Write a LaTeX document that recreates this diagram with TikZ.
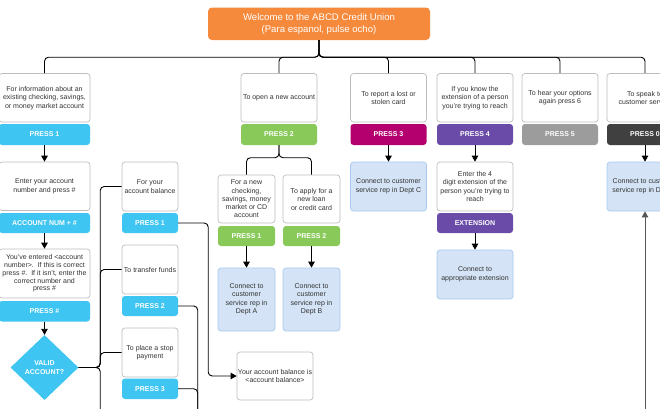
\documentclass[tikz,border=0pt]{standalone}
\usepackage{fontspec}
\setmainfont{Liberation Sans}
\usetikzlibrary{arrows.meta,shapes.geometric}
\definecolor{orng}{HTML}{F68A3C}
\definecolor{pblue}{HTML}{3EC5F1}
\definecolor{pgreen}{HTML}{89C95A}
\definecolor{pmag}{HTML}{B3006E}
\definecolor{ppurp}{HTML}{6A4CA8}
\definecolor{pgrey}{HTML}{9C9C9C}
\definecolor{pdark}{HTML}{404040}
\definecolor{lbfill}{HTML}{D4E4F6}
\definecolor{lbdraw}{HTML}{A8C8F0}
\definecolor{boxgray}{HTML}{BDBDBD}
\definecolor{txt}{HTML}{333333}
\definecolor{upline}{HTML}{555555}
\begin{document}
\begin{tikzpicture}[x=1pt,y=-1pt,
  box/.style={draw=boxgray, fill=white, rounded corners=3pt, line width=0.7pt, inner sep=0pt, align=center, text=txt, font=\fontsize{7}{8.5}\selectfont},
  bluebox/.style={box, draw=lbdraw, fill=lbfill},
  bar/.style={rounded corners=3pt, inner sep=0pt, text=white, font=\fontsize{7}{8}\selectfont\bfseries},
  conn/.style={line width=0.9pt, rounded corners=4pt},
  arr/.style={conn, -{Triangle[length=6pt,width=6.5pt]}}]
\useasboundingbox (0,0) rectangle (660,408);
\clip (0,0) rectangle (660,408);

% title
\node[rounded corners=4pt, fill=orng, text=white, align=center, inner sep=0pt,
  minimum width=222, minimum height=32.5, font=\fontsize{9.6}{12}\selectfont] (title) at (319,23.75)
  {Welcome to the ABCD Credit Union\\(Para espanol, pulse ocho)};

% row 1
\node[box, minimum width=91, minimum height=48.5] (b1) at (44.5,97.75) {For information about an\\existing checking, savings,\\or money market account};
\node[bar, fill=pblue, minimum width=91, minimum height=21] (p1) at (44.5,134.5) {PRESS 1};
\node[box, minimum width=76, minimum height=48.5] (b2) at (279,97.75) {To open a new account};
\node[bar, fill=pgreen, minimum width=76, minimum height=21] (p2) at (279,134.5) {PRESS 2};
\node[box, minimum width=76, minimum height=48.5] (b3) at (388.5,97.75) {To report a lost or\\stolen card};
\node[bar, fill=pmag, minimum width=76, minimum height=21] (p3) at (388.5,134.5) {PRESS 3};
\node[box, minimum width=76, minimum height=48.5] (b4) at (475,97.75) {If you know the\\extension of a person\\you're trying to reach};
\node[bar, fill=ppurp, minimum width=76, minimum height=21] (p4) at (475,134.5) {PRESS 4};
\node[box, minimum width=76, minimum height=48.5] (b5) at (560,97.75) {To hear your options\\again press 6};
\node[bar, fill=pgrey, minimum width=76, minimum height=21] (p5) at (560,134.5) {PRESS 5};
\node[box, minimum width=76, minimum height=48.5] (b6) at (645,97.75) {To speak to\\customer service};
\node[bar, fill=pdark, minimum width=76, minimum height=21] (p6) at (645,134.5) {PRESS 0};

\foreach \b in {b1,b2,b3,b4,b5,b6}
  \draw[conn] (title.south) -- ++(0,17) -| (\b.north);

% column 1
\node[box, minimum width=91, minimum height=48.5] (enter) at (44.5,186.25) {Enter your account\\number and press \#};
\node[bar, fill=pblue, minimum width=91, minimum height=20] (acc) at (44.5,223) {ACCOUNT NUM + \#};
\node[box, minimum width=91, minimum height=49, font=\fontsize{7}{7.8}\selectfont] (conf) at (44.5,273.5) {You've entered <account\\number>.\ \ If this is correct\\press \#.\ \ If it isn't, enter the\\correct number and\\press \#};
\node[bar, fill=pblue, minimum width=91, minimum height=20.5] (ph) at (44.5,311.25) {PRESS \#};
\node[diamond, fill=pblue, inner sep=0pt, minimum width=68, minimum height=65, text=white, align=center,
  font=\fontsize{7}{8.3}\selectfont\bfseries] (valid) at (44.5,367.5) {VALID\\ACCOUNT?};
\draw[arr] (p1.south) -- (enter.north);
\draw[arr] (acc.south) -- (conf.north);
\draw[arr] (ph.south) -- (valid.north);

% column 2
\node[box, minimum width=56, minimum height=49] (bal) at (150,186.5) {For your\\account balance};
\node[bar, fill=pblue, minimum width=56, minimum height=20] (q1) at (150,223) {PRESS 1};
\node[box, minimum width=56, minimum height=49] (trf) at (150,269.5) {To transfer funds};
\node[bar, fill=pblue, minimum width=56, minimum height=20] (q2) at (150,306) {PRESS 2};
\node[box, minimum width=56, minimum height=49] (stop) at (150,352.5) {To place a stop\\payment};
\node[bar, fill=pblue, minimum width=56, minimum height=20.5] (q3) at (150,388.75) {PRESS 3};

\foreach \b in {bal,trf,stop}
  \draw[conn] (valid.east) -- ++(21.5,0) |- (\b.west);
\draw[conn] (valid.east) -- ++(21.5,0) -- ++(0,60);

\node[box, minimum width=76, minimum height=48] (abal) at (275,376) {Your account balance is\\<account balance>};
\draw[arr] (q1.east) -- ++(30,0) |- (abal.west);
\draw[conn] (q2.east) -- ++(19.5,0) -- ++(0,130);
\draw[conn] (q3.east) -- ++(19.5,0) -- ++(0,40);

% open new account
\node[box, minimum width=57, minimum height=48, font=\fontsize{7}{8.2}\selectfont] (sa) at (246.5,199) {For a new\\checking,\\savings, money\\market or CD\\account};
\node[bar, fill=pgreen, minimum width=57, minimum height=20] (sap) at (246.5,236) {PRESS 1};
\node[bluebox, minimum width=57, minimum height=63] (da) at (246.5,299.5) {Connect to\\customer\\service rep in\\Dept A};
\node[box, minimum width=57, minimum height=48] (sb) at (311.5,199) {To apply for a\\new loan\\or credit card};
\node[bar, fill=pgreen, minimum width=57, minimum height=20] (sbp) at (311.5,236) {PRESS 2};
\node[bluebox, minimum width=57, minimum height=63] (db) at (311.5,299.5) {Connect to\\customer\\service rep in\\Dept B};
\draw[conn] (p2.south) -- ++(0,12.5) -| (sa.north);
\draw[conn] (p2.south) -- ++(0,12.5) -| (sb.north);
\draw[arr] (sap.south) -- (da.north);
\draw[arr] (sbp.south) -- (db.north);

% column 3
\node[bluebox, minimum width=76, minimum height=49] (dc) at (388.5,186.5) {Connect to customer\\service rep in Dept C};
\draw[arr] (p3.south) -- (dc.north);

% column 4
\node[box, minimum width=76, minimum height=49] (ext) at (475,186.5) {Enter the 4\\digit extension of the\\person you're trying to\\reach};
\node[bar, fill=ppurp, minimum width=76, minimum height=20] (extp) at (475,223) {EXTENSION};
\node[bluebox, minimum width=76, minimum height=49] (exb) at (475,274.5) {Connect to\\appropriate extension};
\draw[arr] (p4.south) -- (ext.north);
\draw[arr] (extp.south) -- (exb.north);

% column 6
\node[bluebox, minimum width=76, minimum height=49] (dd) at (645,186.5) {Connect to customer\\service rep in Dept D};
\draw[arr] (p6.south) -- (dd.north);
\coordinate (ddbot) at (645,430);
\draw[arr, draw=upline] (ddbot) -- (dd.south);
\end{tikzpicture}
\end{document}
